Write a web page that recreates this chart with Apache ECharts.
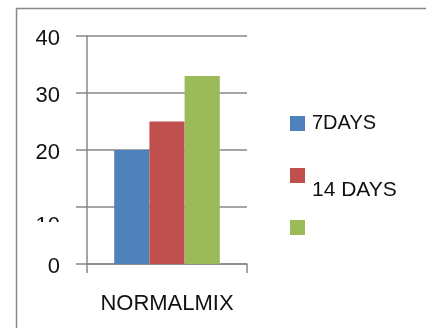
<!DOCTYPE html>
<html>
<head>
<meta charset="utf-8">
<script src="https://cdn.jsdelivr.net/npm/echarts@6/dist/echarts.min.js"></script>
<style>
  html, body { margin: 0; padding: 0; background: #fff; }
  #chart { width: 426px; height: 328px; }
</style>
</head>
<body>
<div id="chart"></div>
<script>
// Categories and series values
const categories = ['NORMALMIX'];
const seriesNames = ['7DAYS', '14 DAYS', ' '];
const days7 = [20];
const days14 = [25];
const days28 = [33];
const yTicks = [0, 10, 20, 30, 40];

const colors = ['#4F81BD', '#C0504D', '#9BBB59'];
const gray = '#878787';
const font = 'Liberation Sans, Arial, sans-serif';

const chart = echarts.init(document.getElementById('chart'), null, { renderer: 'canvas' });

chart.setOption({
  animation: false,
  color: colors,
  textStyle: { fontFamily: font },
  graphic: [
    // outer frame of the chart area
    {
      type: 'rect', z: -10,
      shape: { x: 16.5, y: 8.5, width: 600, height: 600 },
      style: { fill: '#fff', stroke: gray, lineWidth: 1.5 }
    },
    // the "10" label sits partly hidden behind this strip
    {
      type: 'rect', z: 100,
      shape: { x: 25, y: 222, width: 50, height: 30 },
      style: { fill: '#fff' }
    }
  ],
  grid: { left: 87, right: 179, top: 36, bottom: 64, containLabel: false },
  legend: {
    orient: 'vertical',
    left: 290, top: 99,
    padding: 0,
    itemWidth: 15, itemHeight: 15, itemGap: 2.5,
    icon: 'rect',
    data: seriesNames,
    formatter: function (name) {
      return name === '14 DAYS' ? '{b|' + name + '}' : '{a|' + name + '}';
    },
    textStyle: {
      fontFamily: font, fontSize: 20, color: '#111',
      rich: {
        a: { fontSize: 20, lineHeight: 16, padding: [14.5, 0, 14.5, 2], fontFamily: font, color: '#111' },
        b: { fontSize: 21, lineHeight: 16, padding: [29, 0, 0, 2], fontFamily: font, color: '#111' }
      }
    }
  },
  xAxis: {
    type: 'category',
    data: categories,
    axisLine: { show: true, lineStyle: { color: gray, width: 1.5 } },
    axisTick: { show: true, length: 9, alignWithLabel: false, lineStyle: { color: gray, width: 1.5 } },
    axisLabel: { margin: 29, fontSize: 22, color: '#111', fontFamily: font }
  },
  yAxis: {
    type: 'value',
    min: yTicks[0], max: yTicks[yTicks.length - 1], interval: yTicks[1] - yTicks[0],
    axisLine: { show: true, lineStyle: { color: gray, width: 1.5 } },
    axisTick: { show: true, length: 11, lineStyle: { color: gray, width: 1.5 } },
    splitLine: { show: true, lineStyle: { color: gray, width: 1.5 } },
    axisLabel: {
      margin: 27, fontSize: 22, color: '#111', fontFamily: font,
      formatter: function (v) { return v === 10 ? '{low|' + v + '}' : '{n|' + v + '}'; },
      rich: {
        n: { fontSize: 22, padding: [6, 0, 0, 0], fontFamily: font, color: '#111' },
        low: { fontSize: 22, padding: [38, 0, 0, 0], fontFamily: font, color: '#111' }
      }
    }
  },
  series: [
    { name: seriesNames[0], type: 'bar', data: days7, barGap: '0%', barCategoryGap: '34%' },
    { name: seriesNames[1], type: 'bar', data: days14, barGap: '0%', barCategoryGap: '34%' },
    { name: seriesNames[2], type: 'bar', data: days28, barGap: '0%', barCategoryGap: '34%' }
  ]
});
</script>
</body>
</html>
